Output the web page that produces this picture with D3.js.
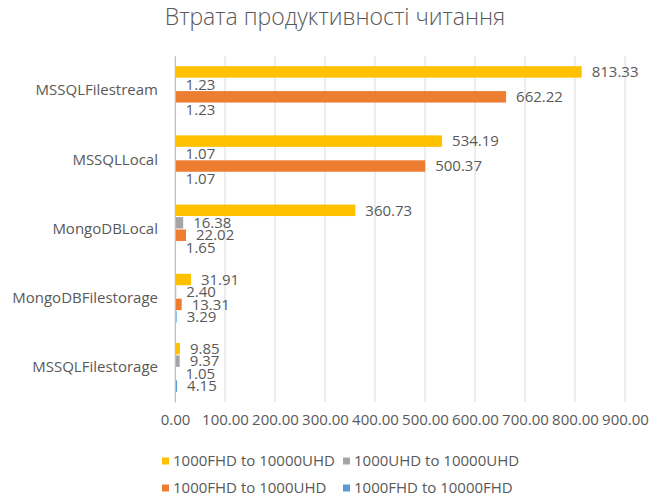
<!DOCTYPE html>
<html>
<head>
<meta charset="utf-8">
<script src="https://cdn.jsdelivr.net/npm/d3@7"></script>
<style>
body { margin: 0; background: #fff; }
svg text { font-family: "Open Sans", sans-serif; fill: #595959; }
</style>
</head>
<body>
<svg id="chart" width="659" height="499"></svg>
<script>
// data
var categories = ["MSSQLFilestream", "MSSQLLocal", "MongoDBLocal", "MongoDBFilestorage", "MSSQLFilestorage"];
var seriesNames = ["1000FHD to 10000UHD", "1000UHD to 10000UHD", "1000FHD to 1000UHD", "1000FHD to 10000FHD"];
var fhd_uhd10k = [813.33, 534.19, 360.73, 31.91, 9.85];
var uhd_uhd10k = [1.23, 1.07, 16.38, 2.40, 9.37];
var fhd_uhd1k = [662.22, 500.37, 22.02, 13.31, 1.05];
var fhd_fhd10k = [1.23, 1.07, 1.65, 3.29, 4.15];
var xTicks = [0, 100, 200, 300, 400, 500, 600, 700, 800, 900];
var titleText = "Втрата продуктивності читання";

var colors = ["#FFC000", "#A5A5A5", "#ED7D31", "#5B9BD5"];
var allSeries = [fhd_uhd10k, uhd_uhd10k, fhd_uhd1k, fhd_fhd10k];

var svg = d3.select("#chart");

var pLeft = 175, pRight = 625, pTop = 56, pBottom = 402;

var x = d3.scaleLinear().domain([0, 900]).range([pLeft, pRight]);
var y = d3.scaleBand().domain(categories).range([pTop, pBottom]).paddingInner(0.28).paddingOuter(0.14);
var yIn = d3.scaleBand().domain(d3.range(seriesNames.length)).range([0, y.bandwidth()]);

// title
svg.append("text")
  .attr("x", 335).attr("y", 25)
  .attr("text-anchor", "middle")
  .style("font-size", "23px")
  .style("font-weight", "300")
  .text(titleText);

// grid
svg.append("g").selectAll("line")
  .data(xTicks)
  .enter().append("line")
  .attr("x1", function(d) { return x(d); })
  .attr("x2", function(d) { return x(d); })
  .attr("y1", pTop).attr("y2", pBottom)
  .attr("stroke", "#d9d9d9")
  .attr("stroke-width", 1);

// x axis labels
var xa = svg.append("g")
  .attr("transform", "translate(0," + pBottom + ")")
  .call(d3.axisBottom(x).tickValues(xTicks).tickSize(0).tickPadding(12).tickFormat(d3.format(".2f")));
xa.select(".domain").remove();
xa.selectAll("text").style("font-size", "15px").attr("font-family", null).attr("fill", null);

// bars
var groups = svg.append("g").selectAll("g")
  .data(categories)
  .enter().append("g")
  .attr("transform", function(d) { return "translate(0," + y(d) + ")"; });

groups.selectAll("rect")
  .data(function(d, i) { return allSeries.map(function(s, k) { return {k: k, v: s[i]}; }); })
  .enter().append("rect")
  .attr("x", x(0))
  .attr("y", function(d) { return yIn(d.k) + 0.5; })
  .attr("height", yIn.bandwidth() - 1)
  .attr("width", function(d) { return x(d.v) - x(0); })
  .attr("fill", function(d) { return colors[d.k]; });

groups.selectAll("text")
  .data(function(d, i) { return allSeries.map(function(s, k) { return {k: k, v: s[i]}; }); })
  .enter().append("text")
  .attr("x", function(d) { return x(d.v) + 10; })
  .attr("y", function(d) { return yIn(d.k) + yIn.bandwidth() / 2; })
  .attr("dy", "0.35em")
  .style("font-size", "15px")
  .text(function(d) { return d.v.toFixed(2); });

// category axis
var ya = svg.append("g")
  .attr("transform", "translate(" + pLeft + ",0)")
  .call(d3.axisLeft(y).tickSize(0).tickSizeOuter(0).tickPadding(17));
ya.select(".domain").attr("stroke", "#bfbfbf");
ya.selectAll("text").style("font-size", "15px").attr("font-family", null).attr("fill", null);

// legend
var legend = svg.append("g").selectAll("g")
  .data(seriesNames)
  .enter().append("g")
  .attr("transform", function(d, i) {
    return "translate(" + (i % 2 == 0 ? 162 : 343) + "," + (i < 2 ? 461 : 488) + ")";
  });
legend.append("rect")
  .attr("x", 0).attr("y", -3.5)
  .attr("width", 7).attr("height", 7)
  .attr("fill", function(d, i) { return colors[i]; });
legend.append("text")
  .attr("x", 11).attr("y", 0).attr("dy", "0.35em")
  .style("font-size", "15px")
  .text(function(d) { return d; });
</script>
</body>
</html>
